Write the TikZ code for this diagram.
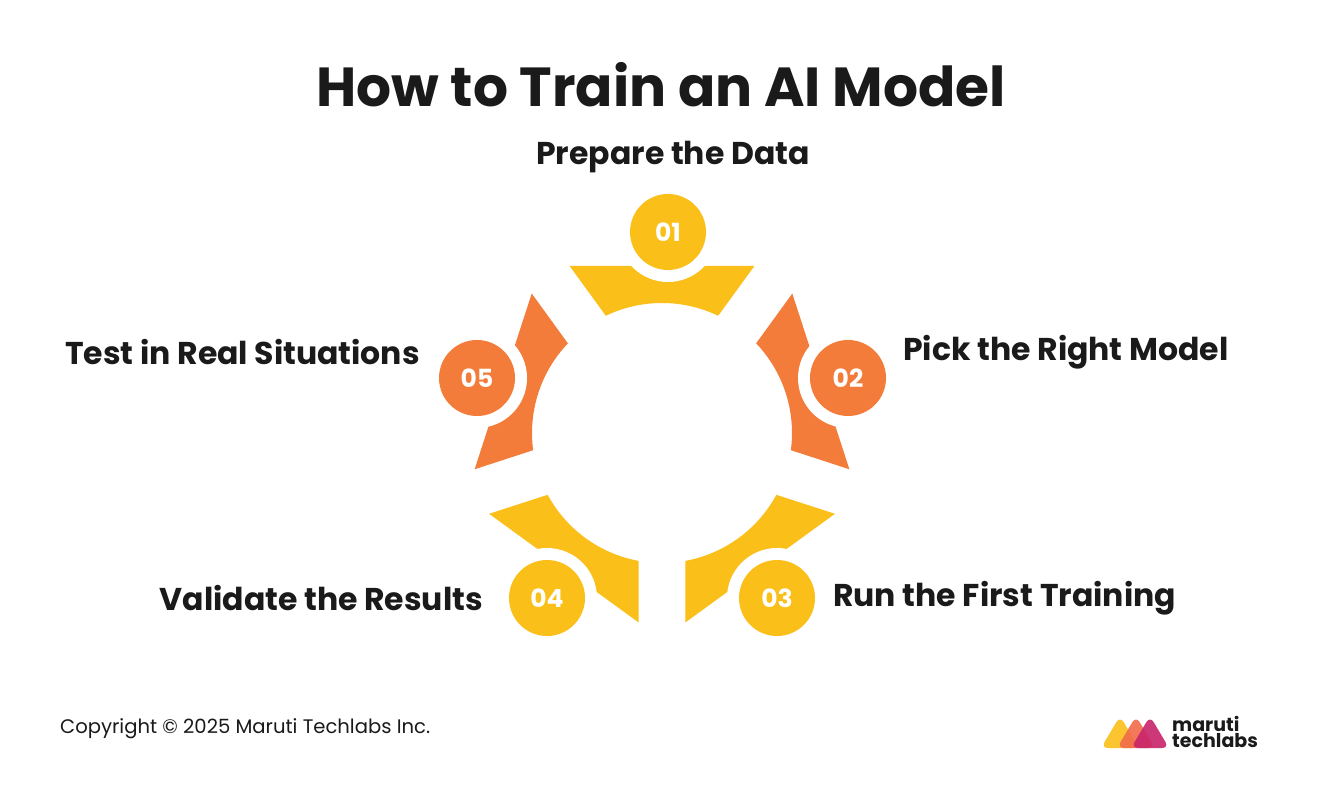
\documentclass[tikz,border=0pt]{standalone}
\usepackage{fontspec}
\setmainfont{Poppins}
\definecolor{yel}{HTML}{FBBF1A}
\definecolor{org}{HTML}{F47C3A}
\definecolor{txt}{HTML}{1A1A1A}
\definecolor{lg1}{HTML}{FBBF1A}
\definecolor{lg2}{HTML}{F26B4A}
\definecolor{lg3}{HTML}{C8246A}
\begin{document}
\begin{tikzpicture}[x=1pt,y=1pt,
  seg/.pic={\fill[#1] (-92.4,167) -- (92.4,167) -- (64.4:130) arc[start angle=64.4,end angle=115.6,radius=130] -- cycle;},
  numc/.style={circle,minimum size=76pt,inner sep=0pt,fill=#1,text=white,font=\fontsize{25}{27}\selectfont\bfseries},
  lbl/.style={text=txt,font=\fontsize{31.5}{34}\selectfont\bfseries,inner sep=0pt}]
\useasboundingbox (0,0) rectangle (1321,798);
\fill[white] (0,0) rectangle (1321,798);
\node[text=txt,font=\fontsize{55}{60}\selectfont\bfseries] (title) at (661,713) {How to Train an AI Model};
\coordinate (c) at (662,365);
\begin{scope}[shift={(c)}]
\pic[rotate=0] {seg=yel};
\pic[rotate=-72] {seg=org};
\pic[rotate=-144] {seg=yel};
\pic[rotate=144] {seg=yel};
\pic[rotate=72] {seg=org};
\end{scope}
\foreach \p in {(668,566),(848,420),(777,200),(547,200),(477,420)} \fill[white] \p circle (50);
\node[numc=yel] (n1) at (668,566) {01};
\node[numc=org] (n2) at (848,420) {02};
\node[numc=yel] (n3) at (777,200) {03};
\node[numc=yel] (n4) at (547,200) {04};
\node[numc=org] (n5) at (477,420) {05};
\node[lbl] (l1) at (673,641) {Prepare the Data};
\node[lbl,anchor=east] (l5) at (420,446) {Test in Real Situations};
\node[lbl,anchor=west] (l2) at (903,446) {Pick the Right Model};
\node[lbl,anchor=east] (l4) at (483,200) {Validate the Results};
\node[lbl,anchor=west] (l3) at (833,200) {Run the First Training};
\node[anchor=west,text=txt,font=\fontsize{19.6}{21}\selectfont,inner sep=0pt] (copy) at (60,69) {Copyright © 2025 Maruti Techlabs Inc.};
% logo
\foreach \x/\cl in {1120/lg1,1136/lg2,1150/lg3}
  \fill[\cl,opacity=0.9,rounded corners=7pt] (\x-19,50) -- (\x+19,50) -- (\x,82) -- cycle;
\node[anchor=west,text=txt,font=\fontsize{19}{19}\selectfont\bfseries,inner sep=0pt] (logo1) at (1172,74) {maruti};
\node[anchor=west,text=txt,font=\fontsize{19}{19}\selectfont\bfseries,inner sep=0pt] (logo2) at (1172,57) {techlabs};
\end{tikzpicture}
\end{document}
